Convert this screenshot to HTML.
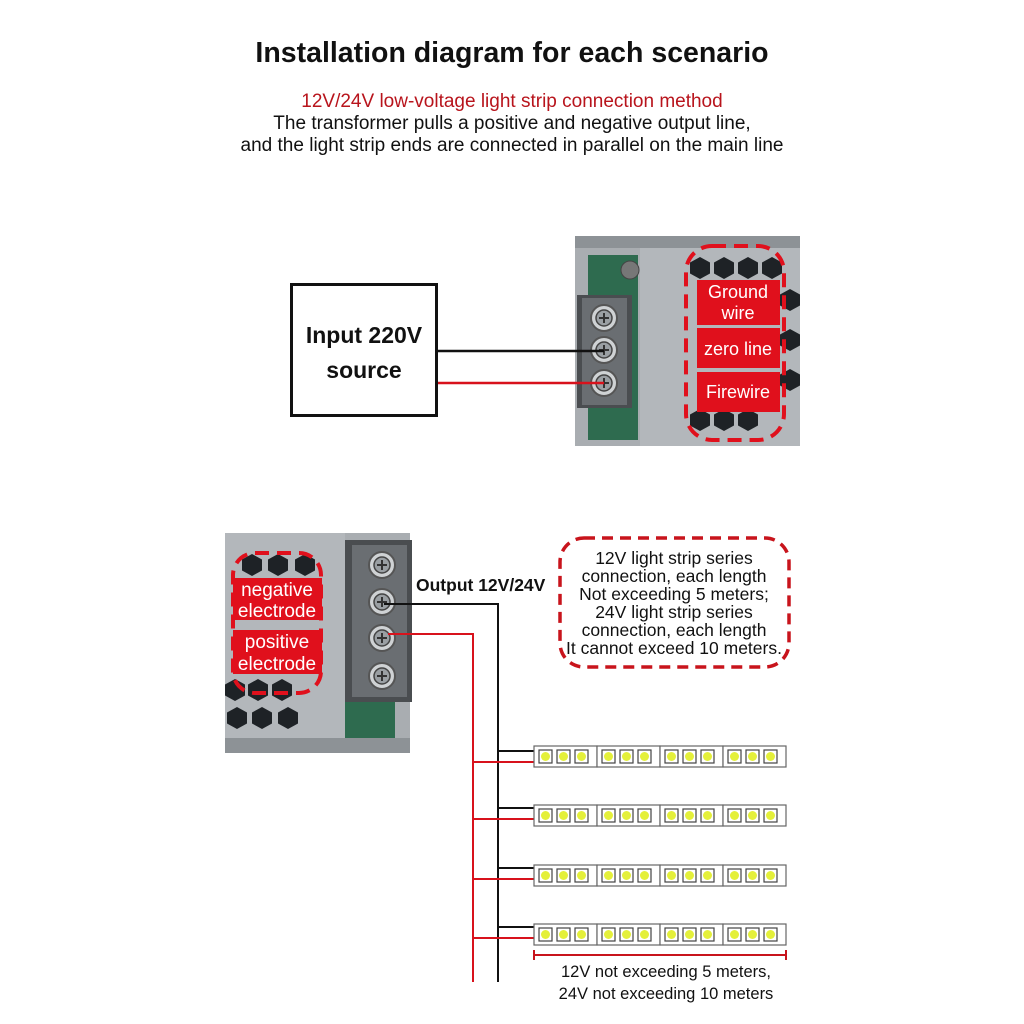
<!DOCTYPE html>
<html><head><meta charset="utf-8"><style>
html,body{margin:0;padding:0;background:#fff}
svg{display:block}
text{font-family:"Liberation Sans","DejaVu Sans",sans-serif}
</style></head><body>
<svg width="1024" height="1024" viewBox="0 0 1024 1024" xmlns="http://www.w3.org/2000/svg">
<defs>
<g id="hex"><polygon points="0,-11 10,-5.5 10,5.5 0,11 -10,5.5 -10,-5.5" fill="#1e2226"/></g>
<g id="seg">
<rect x="0" y="0" width="63" height="21" fill="#fff" stroke="#666" stroke-width="1.2"/>
<rect x="5" y="4" width="13" height="13" fill="#fff" stroke="#444" stroke-width="1.2"/><circle cx="11.5" cy="10.5" r="4.5" fill="#e4f03a"/>
<rect x="23" y="4" width="13" height="13" fill="#fff" stroke="#444" stroke-width="1.2"/><circle cx="29.5" cy="10.5" r="4.5" fill="#e4f03a"/>
<rect x="41" y="4" width="13" height="13" fill="#fff" stroke="#444" stroke-width="1.2"/><circle cx="47.5" cy="10.5" r="4.5" fill="#e4f03a"/>
</g>
<g id="strip"><use href="#seg" x="0"/><use href="#seg" x="63"/><use href="#seg" x="126"/><use href="#seg" x="189"/></g>
<g id="screw"><circle r="13" fill="#cfd2d4" stroke="#555" stroke-width="2"/><circle r="8" fill="#9a9fa3" stroke="#444" stroke-width="1.5"/><path d="M-5 0H5M0 -5V5" stroke="#333" stroke-width="2"/></g>
</defs>

<text x="512" y="62" text-anchor="middle" font-size="28.5" font-weight="bold" fill="#111">Installation diagram for each scenario</text>
<text x="512" y="107" text-anchor="middle" font-size="19" fill="#b8141c">12V/24V low-voltage light strip connection method</text>
<text x="512" y="129" text-anchor="middle" font-size="19" fill="#111">The transformer pulls a positive and negative output line,</text>
<text x="512" y="151" text-anchor="middle" font-size="19" fill="#111">and the light strip ends are connected in parallel on the main line</text>

<!-- top PSU -->
<rect x="575" y="236" width="225" height="210" fill="#a9adb1"/>
<rect x="575" y="236" width="225" height="12" fill="#8d9296"/>
<rect x="588" y="255" width="50" height="185" fill="#2e6b4f"/>
<rect x="640" y="248" width="160" height="198" fill="#b3b7bb"/>
<use href="#hex" x="700" y="268"/><use href="#hex" x="724" y="268"/><use href="#hex" x="748" y="268"/><use href="#hex" x="772" y="268"/>
<use href="#hex" x="790" y="300"/><use href="#hex" x="790" y="340"/><use href="#hex" x="790" y="380"/>
<use href="#hex" x="700" y="420"/><use href="#hex" x="724" y="420"/><use href="#hex" x="748" y="420"/>
<circle cx="630" cy="270" r="9" fill="#777" stroke="#444"/>
<rect x="577" y="295" width="55" height="113" fill="#4a4d50"/>
<rect x="582" y="298" width="45" height="107" fill="#6a6e72"/>
<use href="#screw" x="604" y="318"/><use href="#screw" x="604" y="350"/><use href="#screw" x="604" y="383"/>
<rect x="697" y="280" width="83" height="45" fill="#e0101c"/>
<rect x="697" y="328" width="83" height="40" fill="#e0101c"/>
<rect x="697" y="372" width="83" height="40" fill="#e0101c"/>
<text x="738" y="298" text-anchor="middle" font-size="18" fill="#fff">Ground</text>
<text x="738" y="319" text-anchor="middle" font-size="18" fill="#fff">wire</text>
<text x="738" y="355" text-anchor="middle" font-size="18" fill="#fff">zero line</text>
<text x="738" y="398" text-anchor="middle" font-size="18" fill="#fff">Firewire</text>
<rect x="686" y="246" width="98" height="194" rx="26" fill="none" stroke="#e0101c" stroke-width="4" stroke-dasharray="14 8"/>

<rect x="291.5" y="284.5" width="145" height="131" fill="#fff" stroke="#111" stroke-width="3"/>
<text x="364" y="343" text-anchor="middle" font-size="23" font-weight="bold" fill="#111">Input 220V</text>
<text x="364" y="378" text-anchor="middle" font-size="23" font-weight="bold" fill="#111">source</text>
<line x1="438" y1="351" x2="604" y2="351" stroke="#111" stroke-width="2.5"/>
<line x1="438" y1="383" x2="604" y2="383" stroke="#d8121c" stroke-width="2.5"/>

<!-- bottom PSU -->
<rect x="225" y="533" width="185" height="220" fill="#a9adb1"/>
<rect x="225" y="533" width="120" height="205" fill="#b3b7bb"/>
<rect x="345" y="700" width="50" height="40" fill="#2e6b4f"/>
<rect x="225" y="738" width="185" height="15" fill="#8d9296"/>
<use href="#hex" x="252" y="565"/><use href="#hex" x="278" y="565"/><use href="#hex" x="305" y="565"/>
<use href="#hex" x="235" y="690"/><use href="#hex" x="258" y="690"/><use href="#hex" x="282" y="690"/>
<use href="#hex" x="237" y="718"/><use href="#hex" x="262" y="718"/><use href="#hex" x="288" y="718"/>
<rect x="345" y="540" width="67" height="162" fill="#4a4d50"/>
<rect x="352" y="545" width="55" height="152" fill="#6a6e72"/>
<use href="#screw" x="382" y="565"/><use href="#screw" x="382" y="602"/><use href="#screw" x="382" y="638"/><use href="#screw" x="382" y="676"/>
<rect x="233" y="578" width="89" height="42" fill="#e0101c"/>
<rect x="233" y="630" width="89" height="44" fill="#e0101c"/>
<text x="277" y="596" text-anchor="middle" font-size="19" fill="#fff">negative</text>
<text x="277" y="617" text-anchor="middle" font-size="19" fill="#fff">electrode</text>
<text x="277" y="648" text-anchor="middle" font-size="19" fill="#fff">positive</text>
<text x="277" y="670" text-anchor="middle" font-size="19" fill="#fff">electrode</text>
<rect x="233" y="553" width="88" height="140" rx="22" fill="none" stroke="#e0101c" stroke-width="4" stroke-dasharray="14 8"/>

<text x="416" y="591" font-size="17.5" font-weight="bold" fill="#111">Output 12V/24V</text>
<rect x="560" y="538" width="229" height="129" rx="24" fill="none" stroke="#c8141c" stroke-width="3.5" stroke-dasharray="11 7"/>
<g font-size="17.5" fill="#111" text-anchor="middle">
<text x="674" y="564">12V light strip series</text>
<text x="674" y="582">connection, each length</text>
<text x="674" y="600">Not exceeding 5 meters;</text>
<text x="674" y="618">24V light strip series</text>
<text x="674" y="636">connection, each length</text>
<text x="674" y="654">It cannot exceed 10 meters.</text>
</g>

<!-- wires -->
<polyline points="384,604 498,604 498,982" fill="none" stroke="#111" stroke-width="2"/>
<polyline points="388,634 473,634 473,982" fill="none" stroke="#d8121c" stroke-width="2"/>
<g stroke="#111" stroke-width="2">
<line x1="498" y1="751" x2="534" y2="751"/><line x1="498" y1="808" x2="534" y2="808"/><line x1="498" y1="868" x2="534" y2="868"/><line x1="498" y1="927" x2="534" y2="927"/>
</g>
<g stroke="#d8121c" stroke-width="2">
<line x1="473" y1="762" x2="534" y2="762"/><line x1="473" y1="819" x2="534" y2="819"/><line x1="473" y1="879" x2="534" y2="879"/><line x1="473" y1="938" x2="534" y2="938"/>
</g>
<use href="#strip" x="534" y="746"/>
<use href="#strip" x="534" y="805"/>
<use href="#strip" x="534" y="865"/>
<use href="#strip" x="534" y="924"/>

<g stroke="#c8141c" stroke-width="2"><line x1="534" y1="955" x2="786" y2="955"/><line x1="534" y1="950" x2="534" y2="960"/><line x1="786" y1="950" x2="786" y2="960"/></g>
<text x="666" y="977" text-anchor="middle" font-size="16.5" fill="#111">12V not exceeding 5 meters,</text>
<text x="666" y="999" text-anchor="middle" font-size="16.5" fill="#111">24V not exceeding 10 meters</text>
</svg>
</body></html>
